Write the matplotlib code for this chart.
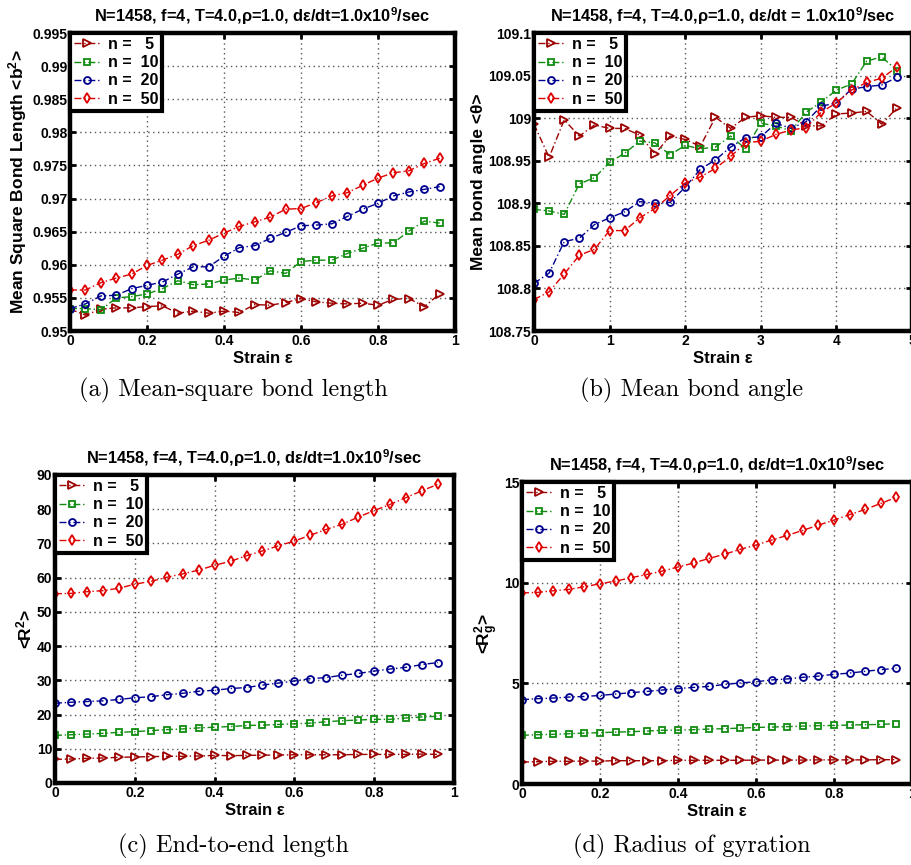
import numpy as np
import matplotlib
matplotlib.use("Agg")
import matplotlib.pyplot as plt
from matplotlib.ticker import FuncFormatter

plt.rcParams['font.family'] = ['Liberation Sans', 'DejaVu Sans']
plt.rcParams['font.weight'] = 'bold'
plt.rcParams['mathtext.fontset'] = 'custom'
for k in ['rm', 'it', 'bf', 'sf']:
    plt.rcParams['mathtext.' + k] = 'Liberation Sans:bold'

# ---------------- data ----------------
strain = [0.00, 0.04, 0.08, 0.12, 0.16, 0.20, 0.24, 0.28, 0.32, 0.36, 0.40, 0.44, 0.48,
          0.52, 0.56, 0.60, 0.64, 0.68, 0.72, 0.76, 0.80, 0.84, 0.88, 0.92, 0.96]
strain_b = [0.0, 0.2, 0.4, 0.6, 0.8, 1.0, 1.2, 1.4, 1.6, 1.8, 2.0, 2.2, 2.4,
            2.6, 2.8, 3.0, 3.2, 3.4, 3.6, 3.8, 4.0, 4.2, 4.4, 4.6, 4.8]
labels = ['n =   5', 'n =  10', 'n =  20', 'n =  50']

# (a) mean-square bond length
b2_n5 = [0.9533, 0.9524, 0.9533, 0.9535, 0.9535, 0.9537, 0.9538, 0.9527, 0.9530, 0.9527,
         0.9530, 0.9528, 0.9540, 0.9539, 0.9543, 0.9549, 0.9544, 0.9542, 0.9541, 0.9542,
         0.9539, 0.9548, 0.9549, 0.9537, 0.9556]
b2_n10 = [0.9534, 0.9534, 0.9532, 0.9550, 0.9552, 0.9556, 0.9564, 0.9576, 0.9570, 0.9571,
          0.9577, 0.9580, 0.9577, 0.9591, 0.9587, 0.9605, 0.9607, 0.9607, 0.9617, 0.9625,
          0.9633, 0.9633, 0.9651, 0.9666, 0.9663]
b2_n20 = [0.9534, 0.9541, 0.9553, 0.9554, 0.9564, 0.9569, 0.9574, 0.9586, 0.9597, 0.9597,
          0.9613, 0.9626, 0.9629, 0.9640, 0.9649, 0.9659, 0.9660, 0.9662, 0.9673, 0.9684,
          0.9693, 0.9704, 0.9710, 0.9714, 0.9718]
b2_n50 = [0.9562, 0.9562, 0.9573, 0.9580, 0.9586, 0.9599, 0.9607, 0.9616, 0.9629, 0.9637,
          0.9648, 0.9658, 0.9665, 0.9672, 0.9684, 0.9685, 0.9694, 0.9704, 0.9709, 0.9720,
          0.9731, 0.9739, 0.9742, 0.9753, 0.9761]

# (b) mean bond angle
th_n5 = [108.993, 108.954, 108.998, 108.979, 108.992, 108.988, 108.988, 108.980, 108.958, 108.979,
         108.975, 108.967, 109.001, 108.988, 109.001, 109.003, 109.001, 109.001, 108.991, 108.991,
         109.005, 109.006, 109.008, 108.993, 109.012]
th_n10 = [108.893, 108.891, 108.887, 108.923, 108.930, 108.948, 108.959, 108.973, 108.971, 108.957,
          108.968, 108.964, 108.966, 108.979, 108.964, 108.994, 108.991, 108.985, 109.007, 109.019,
          109.033, 109.040, 109.067, 109.072, 109.056]
th_n20 = [108.806, 108.818, 108.855, 108.859, 108.875, 108.883, 108.890, 108.902, 108.900, 108.901,
          108.919, 108.940, 108.951, 108.966, 108.977, 108.978, 108.994, 108.988, 108.996, 109.014,
          109.018, 109.034, 109.037, 109.039, 109.048]
th_n50 = [108.787, 108.796, 108.817, 108.839, 108.846, 108.868, 108.868, 108.883, 108.894, 108.909,
          108.924, 108.931, 108.941, 108.955, 108.971, 108.973, 108.981, 108.986, 108.989, 109.007,
          109.018, 109.033, 109.042, 109.047, 109.060]

# (c) end-to-end length
R2_n5 = [6.9, 7.0, 7.2, 7.3, 7.5, 7.6, 7.7, 7.8, 7.8, 7.9, 8.05, 8.0, 8.05, 8.15, 8.15,
         8.25, 8.25, 8.25, 8.25, 8.35, 8.35, 8.35, 8.35, 8.45, 8.35]
R2_n10 = [13.9, 14.1, 14.3, 14.5, 14.8, 15.0, 15.3, 15.6, 15.8, 16.1, 16.3, 16.5, 16.8, 16.9, 17.1,
          17.3, 17.5, 17.9, 18.2, 18.4, 18.6, 18.6, 19.0, 19.3, 19.5]
R2_n20 = [23.3, 23.6, 23.8, 24.0, 24.4, 24.9, 25.2, 25.8, 26.2, 26.8, 27.1, 27.6, 27.9, 28.6, 29.2,
          29.8, 30.5, 30.8, 31.5, 32.0, 32.7, 33.3, 33.8, 34.6, 35.2]
R2_n50 = [55.3, 55.4, 55.9, 56.2, 56.9, 58.1, 58.9, 60.1, 61.1, 62.2, 63.6, 64.8, 66.4, 67.8, 69.3,
          70.7, 72.4, 74.1, 75.6, 77.7, 79.6, 81.4, 83.4, 85.4, 87.3]

# (d) radius of gyration
Rg_n5 = [1.09, 1.11, 1.13, 1.13, 1.14, 1.14, 1.16, 1.16, 1.16, 1.16, 1.18, 1.18, 1.18, 1.18, 1.18,
         1.19, 1.19, 1.19, 1.19, 1.20, 1.20, 1.20, 1.20, 1.21, 1.21]
Rg_n10 = [2.42, 2.45, 2.47, 2.50, 2.53, 2.55, 2.58, 2.60, 2.63, 2.67, 2.68, 2.70, 2.73, 2.75, 2.78,
          2.81, 2.83, 2.85, 2.88, 2.90, 2.91, 2.93, 2.95, 2.96, 3.00]
Rg_n20 = [4.19, 4.24, 4.27, 4.32, 4.35, 4.40, 4.47, 4.54, 4.60, 4.67, 4.74, 4.80, 4.85, 4.95, 5.02,
          5.08, 5.17, 5.22, 5.30, 5.36, 5.45, 5.51, 5.60, 5.68, 5.75]
Rg_n50 = [9.49, 9.52, 9.60, 9.67, 9.80, 9.95, 10.08, 10.25, 10.41, 10.58, 10.78, 10.98, 11.21, 11.42,
          11.66, 11.87, 12.12, 12.35, 12.60, 12.86, 13.11, 13.38, 13.64, 13.94, 14.24]

colors = ['#9c0000', '#108c10', '#00008f', '#e00000']
markers = ['>', 's', 'o', 'd']
msizes = [5.5, 4.0, 5.0, 5.0]

fig = plt.figure(figsize=(9.12, 8.65), dpi=100)

title_a = 'N=1458, f=4, T=4.0,\u03c1=1.0, d\u03b5/dt=1.0x10$^{9}$/sec'
title_b = 'N=1458, f=4, T=4.0,\u03c1=1.0, d\u03b5/dt = 1.0x10$^{9}$/sec'

panels = [
    dict(pos=[0.0768, 0.6173, 0.4222, 0.3445], x=strain, ys=[b2_n5, b2_n10, b2_n20, b2_n50],
         xlim=(0, 1), ylim=(0.95, 0.995), yticks=np.arange(0.95, 0.9951, 0.005),
         xticks=[0, 0.2, 0.4, 0.6, 0.8, 1.0], ylabel='Mean Square Bond Length <b$^{2}$>',
         title=title_a, caption='(a) Mean-square bond length', cap=(0.2555, 0.549)),
    dict(pos=[0.5855, 0.6173, 0.4145, 0.3445], x=strain_b, ys=[th_n5, th_n10, th_n20, th_n50],
         xlim=(0, 5), ylim=(108.75, 109.1), yticks=np.arange(108.75, 109.101, 0.05),
         xticks=[0, 1, 2, 3, 4, 5], ylabel='Mean bond angle <\u03b8>',
         title=title_b, caption='(b) Mean bond angle', cap=(0.7588, 0.549)),
    dict(pos=[0.0603, 0.0948, 0.4375, 0.3561], x=strain, ys=[R2_n5, R2_n10, R2_n20, R2_n50],
         xlim=(0, 1), ylim=(0, 90), yticks=np.arange(0, 91, 10),
         xticks=[0, 0.2, 0.4, 0.6, 0.8, 1.0], ylabel='<R$^{2}$>',
         title=title_a, caption='(c) End-to-end length', cap=(0.2555, 0.022)),
    dict(pos=[0.5724, 0.0936, 0.4276, 0.3491], x=strain, ys=[Rg_n5, Rg_n10, Rg_n20, Rg_n50],
         xlim=(0, 1), ylim=(0, 15), yticks=[0, 5, 10, 15],
         xticks=[0, 0.2, 0.4, 0.6, 0.8, 1.0], ylabel='<R$_{g}^{2}$>',
         title=title_a, caption='(d) Radius of gyration', cap=(0.7588, 0.022)),
]

gfmt = FuncFormatter(lambda v, p: ('%.4f' % v).rstrip('0').rstrip('.') if abs(v) > 1e-12 else '0')

for P in panels:
    ax = fig.add_axes(P['pos'])
    for y, c, m, ms, lab in zip(P['ys'], colors, markers, msizes, labels):
        ax.plot(P['x'], y, linestyle='-.', dashes=(5, 2, 1, 2), color=c, marker=m,
                markersize=ms, markerfacecolor='none', markeredgecolor=c,
                markeredgewidth=1.3, linewidth=1.0, label=lab)
    ax.set_xlim(*P['xlim'])
    ax.set_ylim(*P['ylim'])
    ax.set_xticks(P['xticks'])
    ax.set_yticks(P['yticks'])
    ax.xaxis.set_major_formatter(gfmt)
    ax.yaxis.set_major_formatter(gfmt)
    ax.grid(True, linestyle=(0, (1, 2.5)), color='#555555', linewidth=1.0)
    ax.tick_params(direction='in', length=4, width=2, top=True, right=True,
                   labelsize=10, pad=2)
    for lbl in ax.get_xticklabels() + ax.get_yticklabels():
        lbl.set_fontweight('bold')
    for s in ax.spines.values():
        s.set_linewidth(3.2)
        s.set_color('black')
    ax.set_xlabel('Strain \u03b5', fontsize=12, fontweight='bold', labelpad=2)
    ax.set_ylabel(P['ylabel'], fontsize=12.5, fontweight='bold', labelpad=2)
    ax.set_title(P['title'], fontsize=11.8, fontweight='bold', pad=8)
    leg = ax.legend(loc='upper left', borderaxespad=0.0, fancybox=False, framealpha=1,
                    edgecolor='black', handlelength=1.6, handletextpad=0.5,
                    borderpad=0.25, labelspacing=0.2, prop={'weight': 'bold', 'size': 11.5})
    leg.get_frame().set_linewidth(3.0)
    fig.text(P['cap'][0], P['cap'][1], P['caption'], ha='center', va='center',
             fontsize=17.5, family='cmr10', fontweight='normal')

fig.savefig('out.png', dpi=100)
